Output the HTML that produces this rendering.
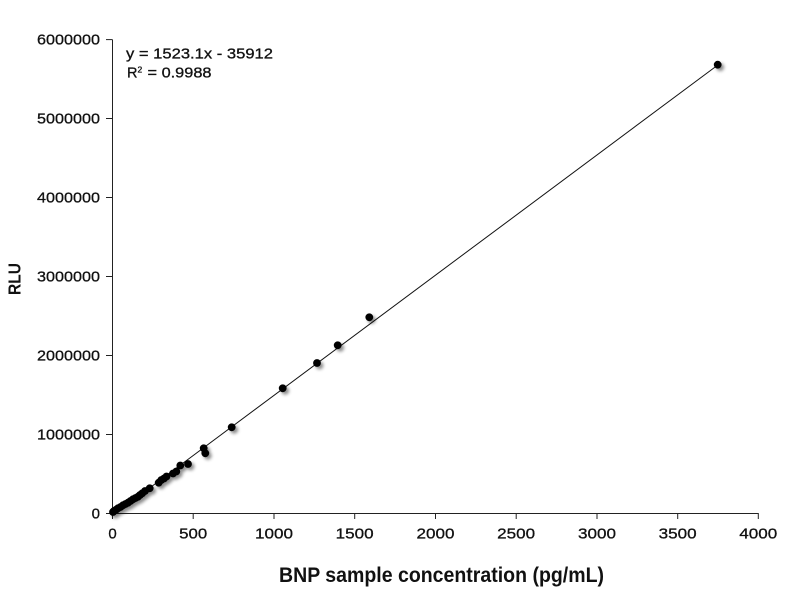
<!DOCTYPE html>
<html>
<head>
<meta charset="utf-8">
<style>
  html, body { margin:0; padding:0; background:#fff; }
  svg { display:block; }
  text { font-family: "Liberation Sans", sans-serif; fill:#111; }
  .w { stroke:#111; stroke-width:0.3; }
</style>
</head>
<body>
<svg width="787" height="600" viewBox="0 0 787 600" xmlns="http://www.w3.org/2000/svg">
  <defs>
    <filter id="sh" x="-100%" y="-100%" width="300%" height="300%">
      <feDropShadow dx="2.5" dy="2.5" stdDeviation="1.6" flood-color="#000" flood-opacity="0.45"/>
    </filter>
  </defs>
  <rect width="787" height="600" fill="#fff"/>

  <!-- axes -->
  <g stroke="#222" stroke-width="1" fill="none">
    <line x1="112.5" y1="39.6" x2="112.5" y2="513.5"/>
    <line x1="112" y1="513.5" x2="758.5" y2="513.5"/>
    <line x1="106" y1="513.5" x2="112.5" y2="513.5"/>
    <line x1="106" y1="434.5" x2="112.5" y2="434.5"/>
    <line x1="106" y1="355.5" x2="112.5" y2="355.5"/>
    <line x1="106" y1="276.5" x2="112.5" y2="276.5"/>
    <line x1="106" y1="197.5" x2="112.5" y2="197.5"/>
    <line x1="106" y1="118.5" x2="112.5" y2="118.5"/>
    <line x1="106" y1="39.6" x2="112.5" y2="39.6"/>
    <line x1="112.5" y1="513" x2="112.5" y2="519"/>
    <line x1="193.2" y1="513" x2="193.2" y2="519"/>
    <line x1="274" y1="513" x2="274" y2="519"/>
    <line x1="354.7" y1="513" x2="354.7" y2="519"/>
    <line x1="435.5" y1="513" x2="435.5" y2="519"/>
    <line x1="516.2" y1="513" x2="516.2" y2="519"/>
    <line x1="597" y1="513" x2="597" y2="519"/>
    <line x1="677.7" y1="513" x2="677.7" y2="519"/>
    <line x1="758.3" y1="513" x2="758.3" y2="519"/>
  </g>

  <!-- y tick labels -->
  <g font-size="15" text-anchor="end" class="w">
    <text x="100" y="518.5">0</text>
    <text x="100" y="439.5" textLength="63" lengthAdjust="spacingAndGlyphs">1000000</text>
    <text x="100" y="360.5" textLength="63" lengthAdjust="spacingAndGlyphs">2000000</text>
    <text x="100" y="281.5" textLength="63" lengthAdjust="spacingAndGlyphs">3000000</text>
    <text x="100" y="202.5" textLength="63" lengthAdjust="spacingAndGlyphs">4000000</text>
    <text x="100" y="123.5" textLength="63" lengthAdjust="spacingAndGlyphs">5000000</text>
    <text x="100" y="44.6" textLength="63" lengthAdjust="spacingAndGlyphs">6000000</text>
  </g>

  <!-- x tick labels -->
  <g font-size="15" text-anchor="middle" class="w">
    <text x="112.5" y="538.5">0</text>
    <text x="193.2" y="538.5" textLength="28" lengthAdjust="spacingAndGlyphs">500</text>
    <text x="274" y="538.5" textLength="38" lengthAdjust="spacingAndGlyphs">1000</text>
    <text x="354.7" y="538.5" textLength="38" lengthAdjust="spacingAndGlyphs">1500</text>
    <text x="435.5" y="538.5" textLength="38" lengthAdjust="spacingAndGlyphs">2000</text>
    <text x="516.2" y="538.5" textLength="38" lengthAdjust="spacingAndGlyphs">2500</text>
    <text x="597" y="538.5" textLength="38" lengthAdjust="spacingAndGlyphs">3000</text>
    <text x="677.7" y="538.5" textLength="38" lengthAdjust="spacingAndGlyphs">3500</text>
    <text x="758.3" y="538.5" textLength="38" lengthAdjust="spacingAndGlyphs">4000</text>
  </g>

  <!-- axis titles -->
  <text x="279" y="582" font-size="21" font-weight="bold" textLength="325" lengthAdjust="spacingAndGlyphs">BNP sample concentration (pg/mL)</text>
  <text transform="translate(20.5,279) rotate(-90)" font-size="17.5" font-weight="bold" text-anchor="middle" textLength="32" lengthAdjust="spacingAndGlyphs">RLU</text>

  <!-- equation -->
  <g class="w">
    <text x="126" y="58.3" font-size="14.5" textLength="147" lengthAdjust="spacingAndGlyphs">y = 1523.1x - 35912</text>
    <text x="127" y="77.5" font-size="14.5">R</text>
    <text x="137.5" y="72.5" font-size="8.5">2</text>
    <text x="147.5" y="77.5" font-size="14.5" textLength="64" lengthAdjust="spacingAndGlyphs">= 0.9988</text>
  </g>

  <!-- trendline -->
  <line x1="116" y1="513" x2="717.7" y2="65.1" stroke="#111" stroke-width="1"/>

  <!-- data points -->
  <g fill="#000" filter="url(#sh)">
    <circle cx="717.7" cy="64.7" r="3.9"/>
    <circle cx="369.3" cy="317.3" r="3.9"/>
    <circle cx="337.7" cy="345.3" r="3.9"/>
    <circle cx="317" cy="363" r="3.9"/>
    <circle cx="282.7" cy="388.3" r="3.9"/>
    <circle cx="231.7" cy="427.3" r="3.9"/>
    <circle cx="203.7" cy="448.3" r="3.9"/>
    <circle cx="205.3" cy="453.3" r="3.9"/>
    <circle cx="188" cy="464" r="3.9"/>
    <circle cx="180.3" cy="465.5" r="3.9"/>
    <circle cx="176.3" cy="471.5" r="3.9"/>
    <circle cx="173" cy="473.5" r="3.9"/>
    <circle cx="166.5" cy="476.5" r="3.9"/>
    <circle cx="164" cy="478.5" r="3.9"/>
    <circle cx="161.3" cy="480" r="3.9"/>
    <circle cx="158.7" cy="482.7" r="3.9"/>
    <circle cx="149.7" cy="488.3" r="3.9"/>
    <circle cx="145" cy="491" r="3.9"/>
    <circle cx="142.3" cy="493.3" r="3.9"/>
    <circle cx="140" cy="495" r="3.9"/>
    <circle cx="138" cy="496.7" r="3.9"/>
    <circle cx="135.5" cy="498" r="3.9"/>
    <circle cx="133" cy="499.3" r="3.9"/>
    <circle cx="130.5" cy="501" r="3.9"/>
    <circle cx="128" cy="502.7" r="3.9"/>
    <circle cx="125.5" cy="504" r="3.9"/>
    <circle cx="123" cy="505.3" r="3.9"/>
    <circle cx="120.5" cy="507" r="3.9"/>
    <circle cx="118" cy="508.3" r="3.9"/>
    <circle cx="116" cy="509.8" r="3.9"/>
    <circle cx="114" cy="511" r="3.9"/>
    <circle cx="113" cy="512" r="3.9"/>
  </g>
</svg>
</body>
</html>
